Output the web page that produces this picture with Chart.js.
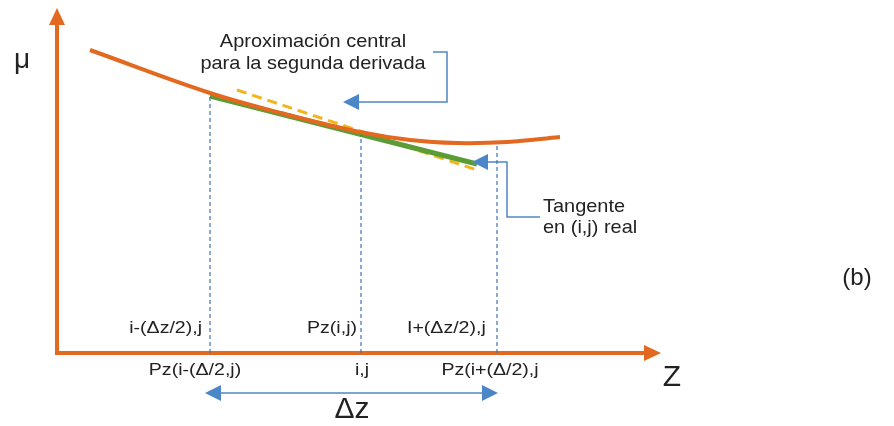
<!DOCTYPE html>
<html>
<head>
<meta charset="utf-8">
<script src="https://cdn.jsdelivr.net/npm/chart.js@4"></script>
<style>
  html, body { margin: 0; padding: 0; background: #fff; }
  #myChart { display: block; }
</style>
</head>
<body>
<canvas id="myChart" width="894" height="426"></canvas>
<script>
// coordinates are in diagram units, origin at the axes corner
const muCurve = [
  { x: 33, y: 303 }, { x: 153, y: 260 }, { x: 228, y: 239 },
  { x: 303, y: 221 }, { x: 353, y: 213 }, { x: 400, y: 210 },
  { x: 450, y: 211 }, { x: 503, y: 216 }
];
const tangentReal = [{ x: 153, y: 257 }, { x: 420, y: 189 }];
const centralApprox = [{ x: 180, y: 263 }, { x: 420, y: 183 }];
const yAxisLine = [{ x: 0, y: -2 }, { x: 0, y: 331 }];
const xAxisLine = [{ x: -2, y: 0 }, { x: 590, y: 0 }];
const guideLeft = [{ x: 153, y: 0 }, { x: 153, y: 258 }];
const guideMid = [{ x: 304, y: 0 }, { x: 304, y: 218 }];
const guideRight = [{ x: 440, y: 0 }, { x: 440, y: 210 }];
const calloutApprox = [{ x: 376, y: 301 }, { x: 390, y: 301 }, { x: 390, y: 251 }, { x: 300, y: 251 }];
const calloutTangent = [{ x: 430, y: 191 }, { x: 450, y: 191 }, { x: 450, y: 136 }, { x: 483, y: 136 }];
const deltaLine = [{ x: 150, y: -40 }, { x: 439, y: -40 }];

// arrow tips: [x, y, direction]
const orangeArrows = [[0, 345, 'up'], [604, 0, 'right']];
const blueArrows = [[286, 251, 'left'], [415, 191, 'left'], [148, -40, 'left'], [441, -40, 'right']];

// text labels: [text, x, y, align]
const calloutTexts = [
  ['Aproximación central', 256, 311, 'center'],
  ['para la segunda derivada', 256, 289, 'center'],
  ['Tangente', 486, 146, 'left'],
  ['en (i,j) real', 486, 125, 'left']
];
const pointLabels = [
  ['i-(Δz/2),j', 145, 25, 'right'],
  ['Pz(i,j)', 300, 25, 'right'],
  ['I+(Δz/2),j', 350, 25, 'left'],
  ['Pz(i-(Δ/2,j)', 138, -17, 'center'],
  ['i,j', 305, -17, 'center'],
  ['Pz(i+(Δ/2),j', 433, -17, 'center']
];
const bigLabels = [
  ['μ', -35, 293, 28],
  ['Z', 615, -25, 30],
  ['(b)', 800, 75, 24],
  ['Δz', 295, -57, 30]
];

const ORANGE = '#e2691f';
const BLUE = '#4f87c2';
const GUIDE_BLUE = '#3f73b3';
const ARROW_BLUE = '#4a86c8';
const TEXT = '#222';
const FONT = '"Liberation Sans", Arial, sans-serif';

function lineSet(data, color, width, dash, tension) {
  return {
    data,
    showLine: true,
    borderColor: color,
    borderWidth: width,
    borderDash: dash || [],
    pointRadius: 0,
    fill: false,
    tension: tension || 0
  };
}

function drawArrow(ctx, px, py, dir, len, half, color) {
  const a = { up: -Math.PI / 2, right: 0, left: Math.PI, down: Math.PI / 2 }[dir];
  const bx = px - Math.cos(a) * len;
  const by = py - Math.sin(a) * len;
  const nx = -Math.sin(a) * half;
  const ny = Math.cos(a) * half;
  ctx.beginPath();
  ctx.moveTo(px, py);
  ctx.lineTo(bx + nx, by + ny);
  ctx.lineTo(bx - nx, by - ny);
  ctx.closePath();
  ctx.fillStyle = color;
  ctx.fill();
}

function drawText(ctx, text, x, y, align, size, stretch) {
  ctx.save();
  ctx.font = size + 'px ' + FONT;
  ctx.fillStyle = TEXT;
  ctx.textBaseline = 'middle';
  ctx.textAlign = align;
  ctx.translate(x, y);
  ctx.scale(stretch, 1);
  ctx.fillText(text, 0, 0);
  ctx.restore();
}

const decorations = {
  id: 'decorations',
  afterDatasetsDraw(chart) {
    const { ctx, scales: { x, y } } = chart;
    orangeArrows.forEach(([ax, ay, dir]) => {
      drawArrow(ctx, x.getPixelForValue(ax), y.getPixelForValue(ay), dir, 17, 8, ORANGE);
    });
    blueArrows.forEach(([ax, ay, dir]) => {
      drawArrow(ctx, x.getPixelForValue(ax), y.getPixelForValue(ay), dir, 16, 8, ARROW_BLUE);
    });
    calloutTexts.forEach(([t, tx, ty, align]) => {
      drawText(ctx, t, x.getPixelForValue(tx), y.getPixelForValue(ty), align, 19, 1.05);
    });
    pointLabels.forEach(([t, tx, ty, align]) => {
      drawText(ctx, t, x.getPixelForValue(tx), y.getPixelForValue(ty), align, 17, 1.15);
    });
    bigLabels.forEach(([t, tx, ty, size]) => {
      drawText(ctx, t, x.getPixelForValue(tx), y.getPixelForValue(ty), 'center', size, 1);
    });
  }
};

const ctx = document.getElementById('myChart').getContext('2d');

const chart = new Chart(ctx, {
  type: 'scatter',
  data: {
    datasets: [
      lineSet(guideLeft, GUIDE_BLUE, 1.2, [4, 3]),
      lineSet(guideMid, GUIDE_BLUE, 1.2, [4, 3]),
      lineSet(guideRight, GUIDE_BLUE, 1.2, [4, 3]),
      lineSet(yAxisLine, ORANGE, 4),
      lineSet(xAxisLine, ORANGE, 4),
      lineSet(muCurve, ORANGE, 4, [], 0.4),
      lineSet(tangentReal, '#5b9c37', 5),
      lineSet(centralApprox, '#f3b51c', 3, [10, 6]),
      lineSet(calloutApprox, BLUE, 1.5),
      lineSet(calloutTangent, BLUE, 1.5),
      lineSet(deltaLine, BLUE, 1.5)
    ]
  },
  options: {
    responsive: false,
    animation: false,
    layout: { padding: 0 },
    plugins: {
      legend: { display: false },
      tooltip: { enabled: false }
    },
    scales: {
      x: { type: 'linear', min: -57, max: 837, display: false },
      y: { type: 'linear', min: -73, max: 353, display: false }
    }
  },
  plugins: [decorations]
});
</script>
</body>
</html>
